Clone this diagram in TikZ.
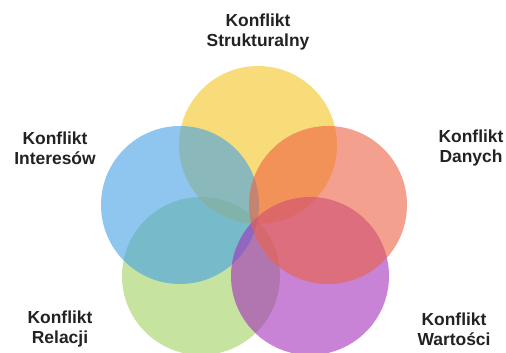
\documentclass[tikz,border=0pt]{standalone}
\usepackage{fontspec}
\setmainfont{Liberation Sans}
\usetikzlibrary{positioning}
\definecolor{sun}{RGB}{245,197,33}
\definecolor{sky}{RGB}{67,160,230}
\definecolor{coral}{RGB}{237,97,67}
\definecolor{leaf}{RGB}{160,208,97}
\definecolor{plum}{RGB}{163,47,187}
\definecolor{ink}{RGB}{34,34,34}

\begin{document}
\begin{tikzpicture}[x=1bp,y=-1bp,
    ring/.style={circle,minimum size=158bp,inner sep=0pt,fill opacity=0.6},
    lbl/.style={align=center,text=ink,font=\bfseries\fontsize{17.5}{20.5}\selectfont}]
        \clip (0,0) rectangle (506,352);
        % circles, back to front
        \foreach \n/\c/\x/\y in {rel/leaf/201/276,str/sun/258/145,int/sky/180/205,war/plum/310/276,dan/coral/328/205}{
          \node[ring,fill=\c] (\n) at (\x,\y) {};
        }
        % labels
        \node[lbl] (lstr) at (258,32) {Konflikt\\Strukturalny};
        \node[lbl] (lint) at (55,148) {Konflikt\\Interesów};
        \node[lbl] (ldan) at (471,148) {Konflikt\\Danych};
        \node[lbl] (lrel) at (60,329) {Konflikt\\Relacji};
        \node[lbl] (lwar) at (454,329) {Konflikt\\Wartości};
      \end{tikzpicture}
\end{document}
